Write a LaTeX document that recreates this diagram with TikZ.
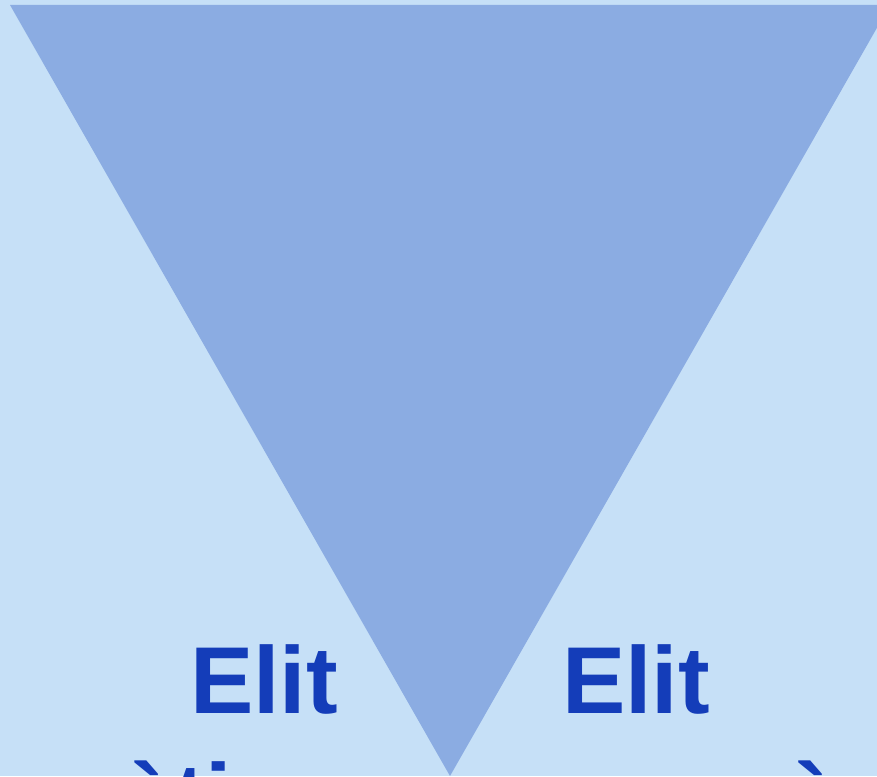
\documentclass[tikz,border=0pt]{standalone}
\usepackage{fontspec}
\setmainfont{Liberation Sans}
\usetikzlibrary{positioning}
\definecolor{elbg}{HTML}{C6E0F7}
\definecolor{eltri}{HTML}{8BACE2}
\definecolor{eltext}{HTML}{143DB9}

\begin{document}
\begin{tikzpicture}[
  x=1pt, y=1pt,
  eliteLabel/.style={
    font=\bfseries\fontsize{95}{117}\selectfont,
    text=eltext, inner sep=0pt},
]

  %% ---- Fons ----
  \fill[elbg] (0,0) rectangle (877,776);
  \useasboundingbox (0,0) rectangle (877,776);
  \clip (0,0) rectangle (877,776);

  %% ---- Triangle invertit ----
  \coordinate (tl) at (10,771);
  \coordinate (tr) at (890,771);
  \coordinate (apex) at (450,0);
  \fill[eltri] (tl) -- (tr) -- (apex) -- cycle;

  %% ---- Etiquetes (la segona línia queda tallada a baix) ----
  \node[eliteLabel, anchor=base east, align=right] (elitTeo) at (338,-54)
    {Elit\\teorètica};
  \node[eliteLabel, anchor=base west, align=left] (elitEco) at (562,-54)
    {Elit\\econòmica};

\end{tikzpicture}
\end{document}
